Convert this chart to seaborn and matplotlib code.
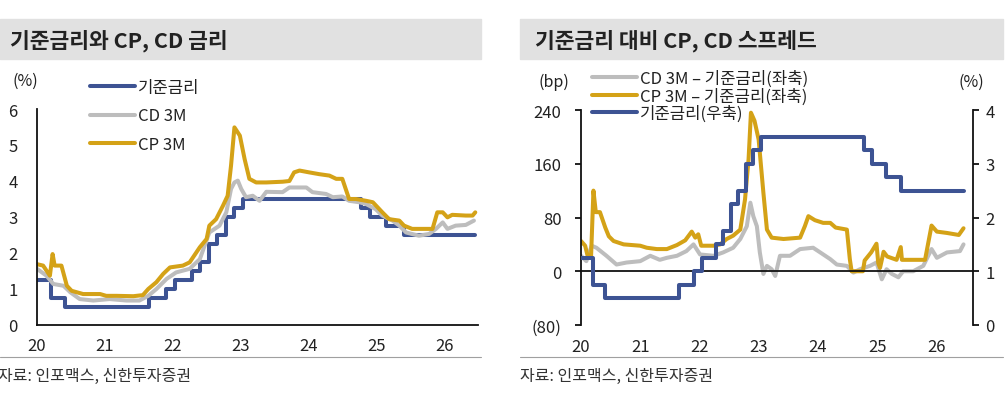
import numpy as np
import pandas as pd
import seaborn as sns
from matplotlib import pyplot as plt
from matplotlib.patches import Rectangle
from matplotlib.lines import Line2D

sns.set_style("white")
plt.rcParams['font.family'] = ['Noto Sans CJK KR', 'DejaVu Sans']
plt.rcParams['axes.unicode_minus'] = False

# 기준금리 (결정일 기준, 연도 소수)
base_x = [2020.00, 2020.21, 2020.41, 2021.65, 2021.90, 2022.04, 2022.28, 2022.40,
          2022.53, 2022.65, 2022.78, 2022.90, 2023.04, 2024.78, 2024.91, 2025.15,
          2025.41, 2026.46]
base_y = [1.25, 0.75, 0.50, 0.75, 1.00, 1.25, 1.50, 1.75,
          2.25, 2.50, 3.00, 3.25, 3.50, 3.25, 3.00, 2.75,
          2.50, 2.50]

# CD 3M (%)
cd_x = [2020.00, 2020.14, 2020.24, 2020.39, 2020.49, 2020.63, 2020.83, 2021.07, 2021.32,
        2021.51, 2021.64, 2021.76, 2021.91, 2022.05, 2022.25, 2022.40, 2022.54, 2022.69,
        2022.79, 2022.86, 2022.91, 2022.96, 2023.01, 2023.08, 2023.18, 2023.28, 2023.38,
        2023.62, 2023.72, 2023.97, 2024.06, 2024.26, 2024.36, 2024.50, 2024.60, 2024.75,
        2024.85, 2024.99, 2025.09, 2025.24, 2025.34, 2025.44, 2025.63, 2025.78, 2025.88,
        2025.98, 2026.05, 2026.17, 2026.32, 2026.44]
cd_y = [1.56, 1.37, 1.14, 1.09, 0.91, 0.72, 0.68, 0.72, 0.68,
        0.68, 0.81, 1.00, 1.28, 1.46, 1.56, 1.83, 2.57, 2.76,
        3.13, 3.78, 3.96, 4.01, 3.78, 3.55, 3.59, 3.45, 3.70,
        3.69, 3.82, 3.82, 3.69, 3.64, 3.55, 3.57, 3.45, 3.41,
        3.36, 3.22, 3.04, 2.90, 2.76, 2.57, 2.48, 2.53, 2.67,
        2.85, 2.67, 2.76, 2.78, 2.90]

# CP 3M (%)
cp_x = [2020.00, 2020.09, 2020.19, 2020.23, 2020.26, 2020.36, 2020.44, 2020.51, 2020.68,
        2020.93, 2021.02, 2021.17, 2021.42, 2021.56, 2021.64, 2021.76, 2021.86, 2021.96,
        2022.15, 2022.25, 2022.30, 2022.40, 2022.50, 2022.54, 2022.64, 2022.74, 2022.81,
        2022.86, 2022.91, 2022.99, 2023.06, 2023.13, 2023.23, 2023.38, 2023.62, 2023.72,
        2023.79, 2023.87, 2024.01, 2024.16, 2024.31, 2024.41, 2024.50, 2024.60, 2024.70,
        2024.85, 2024.95, 2025.02, 2025.09, 2025.19, 2025.34, 2025.41, 2025.53, 2025.83,
        2025.90, 2025.98, 2026.05, 2026.12, 2026.32, 2026.42, 2026.46]
cp_y = [1.69, 1.65, 1.37, 1.97, 1.65, 1.65, 1.09, 0.95, 0.86,
        0.86, 0.81, 0.81, 0.80, 0.83, 1.00, 1.19, 1.42, 1.60,
        1.65, 1.74, 1.88, 2.16, 2.39, 2.76, 2.94, 3.31, 3.59,
        4.43, 5.49, 5.26, 4.61, 4.06, 3.96, 3.96, 3.98, 4.00,
        4.24, 4.29, 4.24, 4.19, 4.15, 4.06, 4.06, 3.50, 3.50,
        3.45, 3.41, 3.27, 3.13, 2.94, 2.90, 2.76, 2.67, 2.67,
        3.13, 3.13, 2.99, 3.06, 3.04, 3.04, 3.13]

# CD 3M - 기준금리 (bp)
cd_sp_x = [2020.00, 2020.09, 2020.18, 2020.26, 2020.43, 2020.60, 2020.77, 2021.00, 2021.17,
           2021.33, 2021.45, 2021.62, 2021.78, 2021.90, 2022.01, 2022.24, 2022.40, 2022.57,
           2022.69, 2022.80, 2022.86, 2022.91, 2022.97, 2023.02, 2023.08, 2023.14, 2023.22,
           2023.28, 2023.36, 2023.53, 2023.70, 2023.92, 2024.04, 2024.21, 2024.32, 2024.49,
           2024.60, 2024.71, 2024.88, 2024.99, 2025.08, 2025.16, 2025.25, 2025.36, 2025.44,
           2025.61, 2025.78, 2025.92, 2026.01, 2026.18, 2026.40, 2026.46]
cd_sp_y = [23, 15, 38, 35, 23, 10, 13, 15, 23,
           17, 20, 23, 30, 40, 25, 23, 28, 35,
           48, 67, 102, 82, 67, 28, -4, 8, 3,
           -7, 23, 23, 33, 35, 28, 18, 10, 8,
           -2, 3, 8, 13, -12, 3, -4, -9, 0,
           0, 8, 33, 20, 28, 30, 40]

# CP 3M - 기준금리 (bp)
cp_sp_x = [2020.00, 2020.07, 2020.12, 2020.17, 2020.21, 2020.25, 2020.32, 2020.41, 2020.47,
           2020.55, 2020.72, 2021.00, 2021.11, 2021.28, 2021.45, 2021.62, 2021.76, 2021.87,
           2021.93, 2021.98, 2022.03, 2022.24, 2022.35, 2022.46, 2022.57, 2022.69, 2022.77,
           2022.83, 2022.87, 2022.93, 2023.00, 2023.08, 2023.14, 2023.22, 2023.42, 2023.70,
           2023.78, 2023.84, 2023.95, 2024.09, 2024.21, 2024.30, 2024.49, 2024.54, 2024.57,
           2024.76, 2024.79, 2024.90, 2024.99, 2025.02, 2025.05, 2025.11, 2025.17, 2025.33,
           2025.40, 2025.42, 2025.81, 2025.92, 2026.01, 2026.18, 2026.38, 2026.46]
cp_sp_y = [45, 38, 20, 22, 120, 88, 88, 65, 52,
           45, 40, 38, 35, 33, 33, 39, 46, 59,
           50, 55, 38, 38, 40, 48, 53, 62, 107,
           167, 236, 224, 196, 117, 62, 50, 48, 50,
           67, 82, 76, 72, 72, 65, 62, 18, 0,
           0, 16, 28, 41, 12, 5, 29, 22, 17,
           36, 17, 17, 68, 59, 57, 54, 64]

year_ticks = [2020, 2021, 2022, 2023, 2024, 2025, 2026]
year_labels = ["20", "21", "22", "23", "24", "25", "26"]

BLUE = "#3D5393"
GRAY = "#BDBDBD"
GOLD = "#D4A217"
LW = 2.9
TXT = "#222222"

fig = plt.figure(figsize=(10.07, 4.06), dpi=100)
W, H = 1007, 406

def fx(px):
    return px / W

def fy(py):
    return 1 - py / H

# 제목 배경, 출처 구분선
for x0, x1 in [(0, 481), (520, 1003)]:
    fig.patches.append(Rectangle((fx(x0), fy(60)), fx(x1 - x0), 40 / H,
                                 transform=fig.transFigure, color="#E1E1E1", zorder=0))
    fig.add_artist(Line2D([fx(x0), fx(x1)], [fy(358), fy(358)], color="#A0A0A0", lw=0.8))

fig.text(fx(10), fy(41), "기준금리와 CP, CD 금리", fontsize=15.5, fontweight="bold",
         color=TXT, va="center", ha="left")
fig.text(fx(535), fy(41), "기준금리 대비 CP, CD 스프레드", fontsize=15.5, fontweight="bold",
         color=TXT, va="center", ha="left")
fig.text(fx(-2), fy(376), "자료: 인포맥스, 신한투자증권", fontsize=11.5, color="#333333",
         va="center", ha="left")
fig.text(fx(520), fy(376), "자료: 인포맥스, 신한투자증권", fontsize=11.5, color="#333333",
         va="center", ha="left")

# ---------------- 왼쪽: 금리 수준 ----------------
ax1 = fig.add_axes([fx(37), fy(326), fx(441), 216 / H])
sns.lineplot(x=base_x, y=base_y, ax=ax1, color=BLUE, linewidth=LW, drawstyle="steps-post",
             label="기준금리")
sns.lineplot(x=cd_x, y=cd_y, ax=ax1, color=GRAY, linewidth=LW, label="CD 3M")
sns.lineplot(x=cp_x, y=cp_y, ax=ax1, color=GOLD, linewidth=LW, label="CP 3M")
ax1.set_xlim(2020, 2026.5)
ax1.set_ylim(0, 6)
ax1.set_xticks(year_ticks)
ax1.set_xticklabels(year_labels)
ax1.set_yticks(range(0, 7))
for s in ["top", "right"]:
    ax1.spines[s].set_visible(False)
for s in ["left", "bottom"]:
    ax1.spines[s].set_color("#111111")
    ax1.spines[s].set_linewidth(1.3)
ax1.tick_params(axis="both", direction="out", length=4, width=1.3, color="#111111",
                labelsize=12, labelcolor=TXT)
ax1.tick_params(axis="y", pad=10)
ax1.tick_params(axis="x", pad=5)
ax1.set_xlabel("")
ax1.set_ylabel("")
ax1.legend_.remove()
h1, l1 = ax1.get_legend_handles_labels()
fig.legend(h1, l1, loc="upper left", bbox_to_anchor=(fx(90), fy(80)), frameon=False,
           fontsize=12, handlelength=2.7, handletextpad=0.2, labelspacing=0.68,
           borderpad=0, borderaxespad=0, labelcolor=TXT)
fig.text(fx(12), fy(81), "(%)", fontsize=11.5, color=TXT, va="center", ha="left")

# ---------------- 오른쪽: 스프레드 ----------------
ax2 = fig.add_axes([fx(581), fy(326), fx(392), 215 / H])
ax3 = ax2.twinx()
sns.lineplot(x=cd_sp_x, y=cd_sp_y, ax=ax2, color=GRAY, linewidth=LW,
             label="CD 3M – 기준금리(좌축)")
sns.lineplot(x=cp_sp_x, y=cp_sp_y, ax=ax2, color=GOLD, linewidth=LW,
             label="CP 3M – 기준금리(좌축)")
sns.lineplot(x=base_x, y=base_y, ax=ax3, color=BLUE, linewidth=LW, drawstyle="steps-post",
             label="기준금리(우축)")
ax2.set_xlim(2020, 2026.62)
ax2.set_ylim(-80, 240)
ax3.set_ylim(0, 4)
ax2.set_yticks([-80, 0, 80, 160, 240])
ax2.set_yticklabels(["(80)", "0", "80", "160", "240"])
ax3.set_yticks([0, 1, 2, 3, 4])
ax2.set_xticks(year_ticks)
ax2.set_xticklabels(year_labels)
for a in (ax2, ax3):
    a.spines["top"].set_visible(False)
    a.set_xlabel("")
    a.set_ylabel("")
ax2.spines["right"].set_visible(False)
ax3.spines["left"].set_visible(False)
ax3.spines["bottom"].set_visible(False)
ax2.spines["bottom"].set_position(("data", 0))
for a, s in [(ax2, "left"), (ax2, "bottom"), (ax3, "right")]:
    a.spines[s].set_color("#111111")
    a.spines[s].set_linewidth(1.3)
for a in (ax2, ax3):
    a.tick_params(axis="both", direction="out", length=4, width=1.3, color="#111111",
                  labelsize=12, labelcolor=TXT)
ax2.tick_params(axis="y", pad=10)
ax3.tick_params(axis="y", pad=5)
ax2.tick_params(axis="x", pad=44)
ax2.legend_.remove()
ax3.legend_.remove()
h2, l2 = ax2.get_legend_handles_labels()
h3, l3 = ax3.get_legend_handles_labels()
fig.legend(h2 + h3, l2 + l3, loc="upper left", bbox_to_anchor=(fx(592), fy(71)),
           frameon=False, fontsize=12, handlelength=2.7, handletextpad=0.2,
           labelspacing=0.0, borderpad=0, borderaxespad=0, labelcolor=TXT)
fig.text(fx(538), fy(82), "(bp)", fontsize=11.5, color=TXT, va="center", ha="left")
fig.text(fx(984), fy(82), "(%)", fontsize=11.5, color=TXT, va="center", ha="right")

fig.savefig("out.png", dpi=100)
